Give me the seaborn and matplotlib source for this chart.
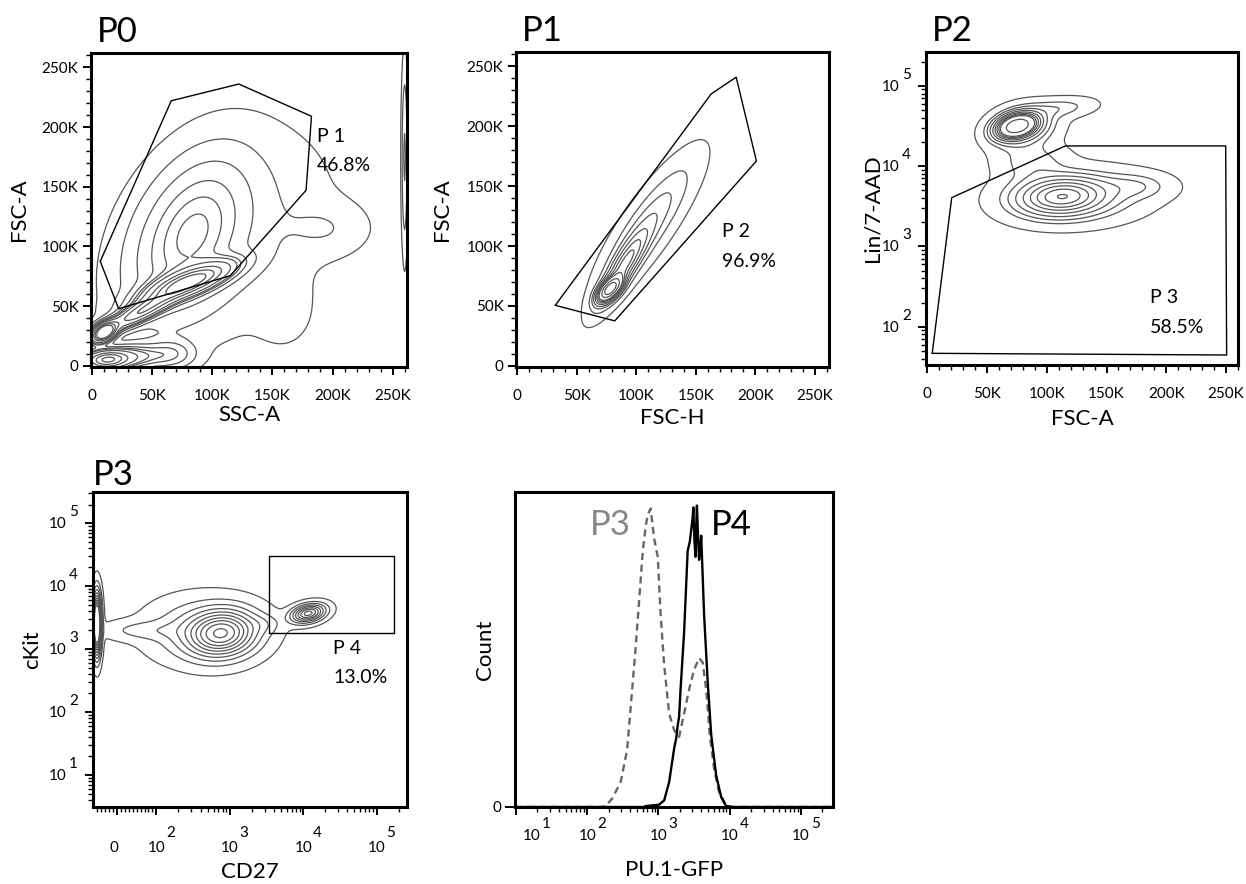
import numpy as np
import pandas as pd
import matplotlib
matplotlib.use('Agg')
import matplotlib.pyplot as plt
import matplotlib.ticker as mticker
import seaborn as sns

# ---------------- data ----------------
# populations are described as (centre, spread, correlation, share)

# P0 : SSC-A (K) vs FSC-A (K)
p0_cx = [12, 35, 10, 80, 40, 82, 110, 195, 160, 65, 260]
p0_cy = [5, 8, 28, 70, 45, 110, 110, 115, 45, 10, 175]
p0_sx = [12, 15, 6, 22, 18, 28, 50, 22, 16, 12, 1.5]
p0_sy = [5, 6, 5, 10, 10, 38, 50, 14, 20, 7, 45]
p0_rho = [0.1, 0.0, 0.4, 0.75, 0.85, 0.4, 0.3, 0.0, 0.0, 0.0, 0.0]
p0_w = [0.07, 0.03, 0.05, 0.18, 0.08, 0.30, 0.15, 0.012, 0.007, 0.015, 0.008]
p0_gate_x = [6.7, 65.8, 122, 182.5, 178, 115, 22]
p0_gate_y = [87.5, 222, 236, 209, 147, 75.5, 47.8]

# P1 : FSC-H (K) vs FSC-A (K)
p1_cx = [78, 90, 110]
p1_cy = [64, 84, 118]
p1_sx = [6, 12, 22]
p1_sy = [6, 18, 30]
p1_rho = [0.6, 0.85, 0.85]
p1_w = [0.3, 0.35, 0.35]
p1_gate_x = [32, 82, 201, 184, 163]
p1_gate_y = [50.5, 37.5, 171, 241, 227]

# P2 : FSC-A (K) vs Lin/7-AAD (log10)
p2_cx = [75, 80, 110, 112, 125, 88, 175]
p2_cy = [4.50, 4.48, 4.72, 3.62, 3.62, 4.05, 3.75]
p2_sx = [10, 16, 18, 22, 35, 18, 18]
p2_sy = [0.09, 0.15, 0.08, 0.14, 0.20, 0.15, 0.10]
p2_rho = [0.3, 0.2, 0.3, 0.1, 0.1, 0.0, 0.0]
p2_w = [0.25, 0.12, 0.025, 0.35, 0.20, 0.05, 0.03]
p2_gate_x = [4.2, 20.5, 115.5, 249.7, 250.5]
p2_gate_y = [46.6, 4040, 17800, 17800, 44.4]

# P3 : CD27 (biex) vs cKit (log10)
p3_cx = [-50, 65, 780, 450, 11700, 3000]
p3_cy = [3.40, 3.30, 3.25, 3.30, 3.57, 3.40]
p3_sx = [0.035, 0.35, 0.28, 0.45, 0.14, 0.15]   # in decades
p3_sy = [0.28, 0.10, 0.22, 0.30, 0.09, 0.10]
p3_rho = [0.0, 0.0, 0.1, 0.0, 0.3, 0.0]
p3_w = [0.15, 0.03, 0.45, 0.25, 0.08, 0.01]
p3_gate_x = [3400, 174000, 174000, 3400]
p3_gate_y = [1820, 1820, 30000, 30000]

# PU.1-GFP histograms (log10 of intensity, % of max)
hist_p3_exp = [0.99, 2.2, 2.26, 2.35, 2.47, 2.56, 2.62, 2.68, 2.73, 2.78, 2.82,
               2.85, 2.87, 2.89, 2.92, 2.94, 2.99, 3.03, 3.08, 3.15, 3.22, 3.29,
               3.36, 3.43, 3.50, 3.57, 3.62, 3.67, 3.72, 3.78, 3.85, 3.95, 4.04, 5.45]
hist_p3_cnt = [0, 0, 0.3, 2.8, 8.3, 19, 36, 53, 69, 85, 93,
               97, 98, 99, 93, 89, 83, 64, 47, 31, 25.5, 23.3,
               31, 39, 45.5, 49.4, 48, 39, 24, 12.8, 5, 0.5, 0, 0]
hist_p4_exp = [0.99, 2.8, 2.82, 2.9, 3.01, 3.08, 3.15, 3.22, 3.25, 3.27, 3.29,
               3.31, 3.36, 3.41, 3.44, 3.46, 3.48, 3.49, 3.505, 3.52, 3.535, 3.54,
               3.555, 3.57, 3.585, 3.60, 3.64, 3.69, 3.74, 3.81, 3.88, 3.95, 4.04, 5.45]
hist_p4_cnt = [0, 0, 0.3, 0.5, 0.8, 2.2, 8.3, 19.4, 23, 27, 30,
               39, 58, 85, 88, 92, 96, 99.4, 88, 83, 97, 100,
               90, 82, 86, 90, 64, 42, 24, 10.5, 3.3, 0.3, 0, 0]

# ---------------- style ----------------
sns.set_theme(style='ticks')
plt.rcParams['font.family'] = ['Lato', 'DejaVu Sans']
plt.rcParams.update({'text.color': 'black', 'axes.labelcolor': 'black',
                     'xtick.color': 'black', 'ytick.color': 'black'})

CONT = '#555555'
W, H = 1246, 884
PX = 0.72  # points per pixel
LEVELS = [0.98, 0.9, 0.8, 0.7, 0.6, 0.5, 0.4, 0.3, 0.2, 0.1]
LIN = 0.54  # width of the 0..100 linear part of the CD27 axis, in decades


def mixture(gx, gy, cx, cy, sx, sy, rho, w):
    X, Y = np.meshgrid(gx, gy)
    Z = np.zeros_like(X)
    for a, b, s1, s2, r, m in zip(cx, cy, sx, sy, rho, w):
        u = (X - a) / s1
        v = (Y - b) / s2
        q = (u * u - 2 * r * u * v + v * v) / (1 - r * r)
        Z += m / (2 * np.pi * s1 * s2 * np.sqrt(1 - r * r)) * np.exp(-q / 2)
    return X, Y, Z


def prob_levels(Z):
    z = np.sort(Z.ravel())[::-1]
    c = np.cumsum(z)
    c /= c[-1]
    return sorted(set(z[np.searchsorted(c, f)] for f in LEVELS))


def t_of(v):  # CD27 value -> axis units (decades)
    v = np.asarray(v, dtype=float)
    a = np.abs(v)
    return np.where(a <= 100, v / 100 * LIN, np.sign(v) * (LIN + np.log10(np.maximum(a, 1e-9) / 100)))


def v_of(t):
    t = np.asarray(t, dtype=float)
    a = np.abs(t)
    return np.where(a <= LIN, t / LIN * 100, np.sign(t) * 100 * 10 ** (a - LIN))


def make_ax(fig, l, t, r, b):
    ax = fig.add_axes([l / W, 1 - b / H, (r - l) / W, (b - t) / H])
    for s in ax.spines.values():
        s.set_visible(True)
        s.set_linewidth(2.2)
        s.set_color('black')
    ax.tick_params(which='major', direction='out', length=6, width=1.4, color='black')
    ax.tick_params(which='minor', direction='out', length=3.5, width=1.0, color='black')
    ax.tick_params(top=False, right=False)
    return ax


def title(ax, txt, dx=0.02, dy=0.035):
    ax.text(dx, 1 + dy, txt, transform=ax.transAxes, fontsize=25, ha='left', va='baseline')


def gate(ax, gx, gy):
    ax.plot(list(gx) + [gx[0]], list(gy) + [gy[0]], color='black', lw=1.0)


def gate_label(ax, x, y1, y2, name, pct):
    ax.text(x, y1, name, fontsize=14, ha='left', va='center')
    ax.text(x, y2, pct, fontsize=14, ha='left', va='center')


def pow_x(ax, vals, exps, base_dy, exp_dy, shift=None):
    # "10" centred under the tick, exponent raised to its right
    shift = shift or [0] * len(vals)
    for v, e, s in zip(vals, exps, shift):
        kw = dict(xycoords=('data', 'axes fraction'), textcoords='offset points',
                  va='center', fontsize=11, annotation_clip=False)
        if e is None:
            ax.annotate('0', (v, 0), xytext=(s * PX, base_dy * PX), ha='center', **kw)
            continue
        ax.annotate('10', (v, 0), xytext=(s * PX, base_dy * PX), ha='center', **kw)
        ax.annotate(str(e), (v, 0), xytext=((s + 10) * PX, exp_dy * PX), ha='left', **kw)


def pow_y(ax, exps):
    for e in exps:
        kw = dict(xycoords=('axes fraction', 'data'), textcoords='offset points',
                  va='center', fontsize=11, annotation_clip=False)
        ax.annotate('10', (0, 10 ** e), xytext=(-26 * PX, -1 * PX), ha='right', **kw)
        ax.annotate(str(e), (0, 10 ** e), xytext=(-24 * PX, 11 * PX), ha='left', **kw)


def lin_axes(ax):
    ax.set_xlim(-1, 262)
    ax.set_ylim(-1, 262)
    ticks = [0, 50, 100, 150, 200, 250]
    labs = ['0', '50K', '100K', '150K', '200K', '250K']
    ax.set_xticks(ticks, labs)
    ax.set_yticks(ticks, labs)
    ax.xaxis.set_minor_locator(mticker.MultipleLocator(10))
    ax.yaxis.set_minor_locator(mticker.MultipleLocator(10))
    ax.tick_params(axis='x', labelsize=11, pad=10)
    ax.tick_params(axis='y', labelsize=11, pad=3)


def log_y(ax, lo, hi, decades):
    ax.set_yscale('log')
    ax.set_ylim(10 ** lo, 10 ** hi)
    ax.yaxis.set_major_locator(mticker.FixedLocator([10 ** d for d in decades]))
    ax.yaxis.set_major_formatter(mticker.NullFormatter())
    ax.yaxis.set_minor_locator(mticker.LogLocator(base=10, subs=range(2, 10), numticks=20))
    ax.yaxis.set_minor_formatter(mticker.NullFormatter())
    pow_y(ax, decades)


def set_labels(ax, xl, yl, xy, yx):
    ax.set_xlabel(xl, fontsize=16)
    ax.set_ylabel(yl, fontsize=16)
    ax.xaxis.set_label_coords(0.5, xy)
    ax.yaxis.set_label_coords(yx, 0.5)
    ax.yaxis.label.set_va('center')


fig = plt.figure(figsize=(W / 100, H / 100), dpi=100)

# ---------- P0 ----------
ax0 = make_ax(fig, 91, 53, 407, 367)
X, Y, Z = mixture(np.linspace(-2, 264, 400), np.linspace(-2, 264, 400),
                  p0_cx, p0_cy, p0_sx, p0_sy, p0_rho, p0_w)
ax0.contour(X, Y, Z, levels=prob_levels(Z), colors=CONT, linewidths=0.9)
gate(ax0, p0_gate_x, p0_gate_y)
gate_label(ax0, 187, 192, 168, 'P 1', '46.8%')
lin_axes(ax0)
set_labels(ax0, 'SSC-A', 'FSC-A', -0.12, -0.228)
title(ax0, 'P0')

# ---------- P1 ----------
ax1 = make_ax(fig, 516, 52, 829, 367)
X, Y, Z = mixture(np.linspace(-2, 264, 400), np.linspace(-2, 264, 400),
                  p1_cx, p1_cy, p1_sx, p1_sy, p1_rho, p1_w)
ax1.contour(X, Y, Z, levels=prob_levels(Z), colors=CONT, linewidths=0.9)
gate(ax1, p1_gate_x, p1_gate_y)
gate_label(ax1, 172, 112.5, 87.5, 'P 2', '96.9%')
lin_axes(ax1)
set_labels(ax1, 'FSC-H', 'FSC-A', -0.13, -0.235)
title(ax1, 'P1')

# ---------- P2 ----------
ax2 = make_ax(fig, 926, 52, 1238, 365)
X, L, Z = mixture(np.linspace(-2, 262, 400), np.linspace(1.5, 5.45, 400),
                  p2_cx, p2_cy, p2_sx, p2_sy, p2_rho, p2_w)
ax2.contour(X, 10 ** L, Z, levels=prob_levels(Z), colors=CONT, linewidths=0.9)
gate(ax2, p2_gate_x, p2_gate_y)
gate_label(ax2, 186, 229, 98, 'P 3', '58.5%')
ax2.set_xlim(-1, 260)
ax2.set_xticks([0, 50, 100, 150, 200, 250], ['0', '50K', '100K', '150K', '200K', '250K'])
ax2.xaxis.set_minor_locator(mticker.MultipleLocator(10))
ax2.tick_params(axis='x', labelsize=11, pad=10)
log_y(ax2, 1.523, 5.42, [2, 3, 4, 5])
set_labels(ax2, 'FSC-A', 'Lin/7-AAD', -0.14, -0.17)
title(ax2, 'P2')

# ---------- P3 ----------
ax3 = make_ax(fig, 93, 492, 407, 807)
T, L, Z = mixture(np.linspace(-0.4, 4.0, 450), np.linspace(0.4, 5.6, 450),
                  t_of(p3_cx), p3_cy, p3_sx, p3_sy, p3_rho, p3_w)
ax3.contour(v_of(T), 10 ** L, Z, levels=prob_levels(Z), colors=CONT, linewidths=0.9)
gate(ax3, p3_gate_x, p3_gate_y)
gate_label(ax3, 25600, 1040, 360, 'P 4', '13.0%')
ax3.set_xscale('symlog', linthresh=100, linscale=LIN * 0.9)
ax3.set_xlim(-60, 2.6e5)
ax3.xaxis.set_major_locator(mticker.FixedLocator([0, 1e2, 1e3, 1e4, 1e5]))
ax3.xaxis.set_major_formatter(mticker.NullFormatter())
x_minor = [m for m in range(-50, 100, 10) if m != 0] + \
          [m * 10 ** k for k in range(2, 6) for m in range(2, 10) if m * 10 ** k < 2.6e5]
ax3.xaxis.set_minor_locator(mticker.FixedLocator(x_minor))
pow_x(ax3, [0, 1e2, 1e3, 1e4, 1e5], [None, 2, 3, 4, 5], -41, -26, shift=[-3, 0, 0, 0, 0])
log_y(ax3, 0.49, 5.5, [1, 2, 3, 4, 5])
set_labels(ax3, 'CD27', 'cKit', -0.175, -0.193)
title(ax3, 'P3', dx=0.0, dy=0.022)

# ---------- PU.1-GFP histogram ----------
ax4 = make_ax(fig, 515, 492, 833, 807)
df = pd.concat([
    pd.DataFrame({'gfp': 10 ** np.array(hist_p3_exp), 'count': hist_p3_cnt, 'gate': 'P3'}),
    pd.DataFrame({'gfp': 10 ** np.array(hist_p4_exp), 'count': hist_p4_cnt, 'gate': 'P4'}),
])
sns.lineplot(data=df[df.gate == 'P3'], x='gfp', y='count', ax=ax4, color='#666666',
             lw=1.7, linestyle=(0, (3, 2)), estimator=None)
sns.lineplot(data=df[df.gate == 'P4'], x='gfp', y='count', ax=ax4, color='black',
             lw=1.7, estimator=None)
ax4.set_xscale('log')
ax4.set_xlim(10 ** 0.986, 10 ** 5.45)
ax4.set_ylim(0, 104.5)
ax4.xaxis.set_major_locator(mticker.FixedLocator([1e1, 1e2, 1e3, 1e4, 1e5]))
ax4.xaxis.set_major_formatter(mticker.NullFormatter())
ax4.xaxis.set_minor_locator(mticker.LogLocator(base=10, subs=range(2, 10), numticks=20))
ax4.xaxis.set_minor_formatter(mticker.NullFormatter())
pow_x(ax4, [1e1, 1e2, 1e3, 1e4, 1e5], [1, 2, 3, 4, 5], -29, -17, shift=[16, 0, 0, 0, 0])
ax4.set_yticks([0], ['0'])
ax4.tick_params(axis='y', which='major', length=7.5, labelsize=11, pad=2)
ax4.text(10 ** 2.04, 90.2, 'P3', fontsize=25, color='#888888', ha='left', va='baseline')
ax4.text(10 ** 3.73, 90.2, 'P4', fontsize=25, color='black', ha='left', va='baseline')
set_labels(ax4, 'PU.1-GFP', 'Count', -0.168, -0.094)

fig.savefig('out.png', dpi=100)
